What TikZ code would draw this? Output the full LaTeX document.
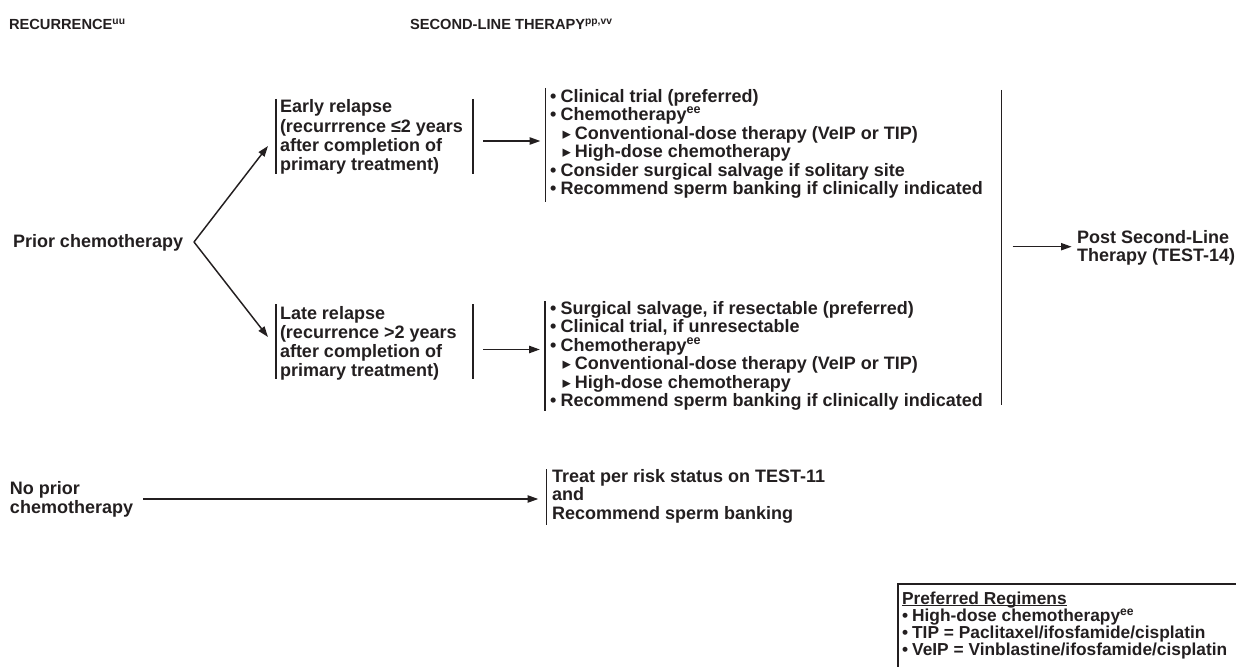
\documentclass[tikz,border=0pt]{standalone}
\usepackage{fontspec}
\setmainfont{Liberation Sans}
\newfontfamily\dvs{DejaVu Sans}
\usetikzlibrary{arrows.meta}
\definecolor{ink}{RGB}{35,31,32}
\newcommand\stk[2]{\vtop{\baselineskip=#1\lineskiplimit=-1000pt\lineskip=0pt #2}}
\newcommand\bul{\hbox to 8.0pt{•\hss}}
\newcommand\tri{\hbox to 9.4pt{}\hbox to 9.2pt{{\dvs\fontsize{12.5}{12}\selectfont ▸}\hss}}
\newcommand\ee{\textsuperscript{ee}}
\newcommand\ulin[1]{\setbox0=\hbox{#1}\rlap{\rule[-1.7pt]{\wd0}{0.85pt}}\box0}
\begin{document}
\begin{tikzpicture}[x=0.75pt,y=-0.75pt,line width=1.1pt,
  every node/.style={inner sep=0pt,outer sep=0pt,text=ink},
  arr/.style={draw=ink,-{Triangle[length=8pt,width=5.4pt]}},
  brk/.style={draw=ink},
  txt/.style={anchor=base west,font=\fontsize{13.5}{14.3}\selectfont\bfseries},
  ttl/.style={anchor=base west,font=\fontsize{11}{12}\selectfont\bfseries},
  zone/.style={anchor=north west,minimum width=1pt}]
\path[use as bounding box] (0,0) rectangle (1236,667);

% titles
\node[ttl] (rec) at (9,30) {RECURRENCE\textsuperscript{uu}};
\node[ttl] (slt) at (410,30) {SECOND-LINE THERAPY\textsuperscript{pp,vv}};

% prior chemotherapy branch
\node[txt] (prior) at (13,247) {Prior chemotherapy};
\coordinate (v) at (194,242);
\coordinate (ea) at (268,146);
\coordinate (la) at (268,337);

% bracket zones
\node[zone,minimum width=147.75pt,minimum height=56.25pt] (eb) at (276,99) {};
\node[zone,minimum width=147.75pt,minimum height=56.25pt] (lb) at (276,304) {};
\node[zone,minimum height=85.5pt] (el) at (545.7,88) {};
\node[zone,minimum height=82.5pt] (ll) at (545.2,301) {};
\node[zone,minimum height=236.25pt] (big) at (1001.5,90) {};
\node[zone,minimum height=42pt] (tb) at (546.3,469) {};

\draw[brk] (eb.north west) -- (eb.south west) (eb.north east) -- (eb.south east);
\draw[brk] (lb.north west) -- (lb.south west) (lb.north east) -- (lb.south east);
\draw[brk] (el.north west) -- (el.south west);
\draw[brk] (ll.north west) -- (ll.south west);
\draw[brk] (big.north west) -- (big.south west);
\draw[brk] (tb.north west) -- (tb.south west);

% texts
\node[txt] (early) at (280,113) {\stk{14.3pt}{\hbox{Early relapse}\hbox{(recurrrence ≤2 years}\hbox{after completion of}\hbox{primary treatment)}}};
\node[txt] (late) at (280,319.5) {\stk{14.3pt}{\hbox{Late relapse}\hbox{(recurrence >2 years}\hbox{after completion of}\hbox{primary treatment)}}};

\node[txt] (elist) at (550,102.5) {\stk{13.8pt}{%
 \hbox{\bul Clinical trial (preferred)}
 \hbox{\bul Chemotherapy\ee}
 \hbox{\tri Conventional-dose therapy (VeIP or TIP)}
 \hbox{\tri High-dose chemotherapy}
 \hbox{\bul Consider surgical salvage if solitary site}
 \hbox{\bul Recommend sperm banking if clinically indicated}}};

\node[txt] (llist) at (550,314.5) {\stk{13.8pt}{%
 \hbox{\bul Surgical salvage, if resectable (preferred)}
 \hbox{\bul Clinical trial, if unresectable}
 \hbox{\bul Chemotherapy\ee}
 \hbox{\tri Conventional-dose therapy (VeIP or TIP)}
 \hbox{\tri High-dose chemotherapy}
 \hbox{\bul Recommend sperm banking if clinically indicated}}};

\node[txt] (post) at (1077,243) {\stk{13.5pt}{\hbox{Post Second-Line}\hbox{Therapy (TEST-14)}}};

\node[txt] (noprior) at (10,494) {\stk{14.25pt}{\hbox{No prior}\hbox{chemotherapy}}};
\node[txt] (treat) at (552,482) {\stk{13.9pt}{\hbox{Treat per risk status on TEST-11}\hbox{and}\hbox{Recommend sperm banking}}};

% connectors
\coordinate (eo) at (483,141);
\coordinate (lo) at (483,349.5);
\coordinate (po) at (1012.7,246.7);
\coordinate (no) at (143,499);
\draw[arr] (v) -- (ea);
\draw[arr] (v) -- (la);
\draw[arr,shorten >=4pt] (eo) -- (eo -| el.west);
\draw[arr,shorten >=4pt] (lo) -- (lo -| ll.west);
\draw[arr,shorten >=4pt] (po) -- (po -| post.west);
\draw[arr,shorten >=6pt] (no) -- (no -| tb.west);

% preferred regimens box
\begin{scope}
\clip (0,0) rectangle (1236,667);
\node[anchor=north west,draw=ink,line width=1.1pt,minimum width=270pt,minimum height=80pt] (pbox) at (898,584) {};
\node[anchor=base west,font=\fontsize{13}{12.8}\selectfont\bfseries] (pref) at (902,604) {\stk{12.8pt}{%
 \hbox{\ulin{Preferred Regimens}}
 \hbox{\hbox to 7.6pt{•\hss}High-dose chemotherapy\ee}
 \hbox{\hbox to 7.6pt{•\hss}TIP = Paclitaxel/ifosfamide/cisplatin}
 \hbox{\hbox to 7.6pt{•\hss}VeIP = Vinblastine/ifosfamide/cisplatin}}};
\end{scope}
\end{tikzpicture}
\end{document}
